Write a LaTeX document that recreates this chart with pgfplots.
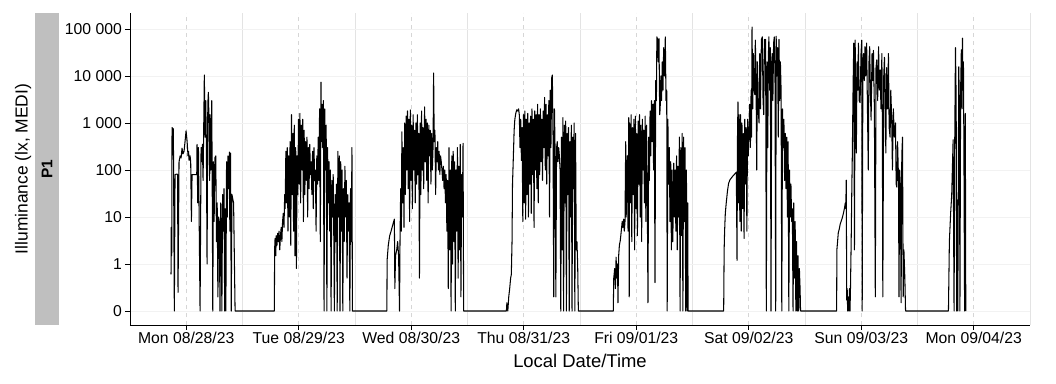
\documentclass[border=0pt]{standalone}
\usepackage{fontspec}
\setmainfont{Liberation Sans}
\usepackage{pgfplots}
\pgfplotsset{compat=1.18}
\usepackage{pgfplotstable}
% hours since Mon 08/28/23 00:00 ; illuminance in lx (0 lx stored as 0.1 for the symlog-like display)
\pgfplotstableread{
h lux
8.75 0.6
8.80 6
8.90 1.5
8.97 800
9.25 750
9.46 0.1
9.61 80
10.03 82
10.15 80
10.25 0.25
10.46 150
10.70 200
10.90 180
11.10 290
11.30 220
11.53 250
11.74 400
11.96 680
12.17 420
12.38 200
12.50 250
12.60 160
12.81 200
12.95 150
13.10 8
13.24 80
14.24 80
14.30 350
14.45 20
14.60 300
14.95 0.1
15.16 300
15.31 150
15.44 350
15.59 60
15.86 10500
16.01 500
16.16 3000
16.30 300
16.44 1
16.60 2500
16.72 4500
16.87 1000
17.00 60
17.08 1500
17.25 100
17.44 3000
17.55 30
17.66 0.1
17.80 150
17.95 8
18.10 180
18.30 200
18.45 3
18.60 20
18.75 0.2
18.90 10
19.05 8
19.20 0.1
19.35 20
19.50 3
19.60 0.1
19.75 30
19.90 5
20.05 40
20.20 0.1
20.30 15
20.45 0.1
20.60 150
20.75 10
20.90 200
21.05 40
21.20 240
21.30 5
21.45 230
21.60 0.1
21.75 30
21.90 25
22.10 20
22.42 0.1
30.80 0.1
30.85 2
30.95 3.5
31.10 1.5
31.20 4
31.35 2.5
31.50 4.5
31.65 3
31.80 5
31.95 2
32.10 4
32.25 6
32.40 3
32.55 8
32.70 12
32.85 6
33.00 30
33.10 15
33.25 250
33.40 20
33.55 300
33.70 5
33.85 200
34.00 10
34.15 400
34.30 2.5
34.45 1500
34.60 30
34.75 600
34.90 5
35.05 900
35.20 1.5
35.35 300
35.50 0.8
35.65 200
35.80 30
35.95 1200
36.10 50
36.25 1600
36.40 20
36.55 900
36.70 100
36.85 1200
37.00 8
37.15 700
37.30 30
37.45 400
37.60 60
37.75 500
37.90 10
38.05 300
38.20 40
38.35 350
38.50 80
38.65 150
38.80 30
38.95 250
39.10 15
39.25 300
39.40 60
39.55 100
39.70 5
39.85 200
40.00 50
40.15 500
40.30 60
40.45 2000
40.60 3
40.75 7400
40.85 400
41.00 2500
41.10 300
41.25 3000
41.40 0.1
41.55 2000
41.70 100
41.85 900
42.00 0.1
42.15 300
42.30 20
42.45 150
42.60 5
42.75 100
42.90 0.1
43.05 60
43.20 10
43.35 80
43.50 2
43.60 0.1
43.75 30
43.90 3
44.05 50
44.20 0.1
44.35 250
44.50 10
44.65 200
44.80 0.1
44.95 150
45.10 5
45.25 100
45.40 0.1
45.55 40
45.70 3
45.85 120
46.00 10
46.15 60
46.30 0.5
46.45 30
46.60 5
46.75 20
46.90 0.1
47.05 40
47.20 3
47.35 300
47.45 0.1
54.80 0.1
54.85 1.2
55.10 2.5
55.40 4
55.70 5
56.00 6.5
56.40 9
56.50 0.3
56.65 1.5
56.90 2
57.10 3
57.30 1.5
57.50 0.1
57.60 3
57.75 40
57.90 5
58.00 650
58.15 20
58.30 300
58.45 6
58.60 1000
58.75 30
58.90 1400
59.05 100
59.20 1800
59.35 40
59.50 1200
59.65 8
59.80 1900
59.95 60
60.10 900
60.25 15
60.40 1500
60.55 100
60.70 700
60.85 20
61.00 1000
61.15 50
61.30 1500
61.45 80
61.60 600
61.75 0.5
61.90 1000
62.05 30
62.20 1800
62.35 100
62.50 800
62.65 40
62.85 2200
63.00 150
63.15 1200
63.30 60
63.45 1000
63.60 20
63.75 900
63.90 200
64.05 700
64.20 50
64.35 600
64.50 100
64.65 300
64.77 11600
64.90 400
65.05 700
65.20 30
65.35 300
65.50 150
65.65 400
65.80 100
65.95 250
66.10 80
66.25 200
66.40 150
66.55 100
66.70 60
66.85 120
67.00 40
67.15 100
67.30 20
67.45 80
67.60 5
67.75 60
67.90 0.3
68.05 300
68.20 2
68.35 100
68.50 0.1
68.65 200
68.80 1
68.95 250
69.10 3
69.25 150
69.40 0.1
69.55 100
69.70 5
69.85 300
70.00 0.5
70.15 120
70.30 2
70.45 350
70.60 0.2
70.75 80
70.90 10
71.05 370
71.18 0.1
80.30 0.1
80.40 0.15
80.60 0.1
80.80 0.2
81.00 0.3
81.20 0.5
81.35 0.6
81.50 3
81.60 50
81.75 150
81.95 700
82.10 1200
82.30 1600
82.50 1900
82.70 1800
82.90 2000
83.05 1500
83.20 300
83.35 1200
83.50 160
83.65 800
83.80 8
83.95 1500
84.10 20
84.25 1800
84.40 9
84.55 1200
84.70 30
84.85 1600
85.00 10
85.15 1000
85.30 50
85.45 1400
85.60 12
85.75 2000
85.90 80
86.05 1200
86.20 6
86.35 1800
86.50 100
86.65 1500
86.80 40
86.95 2500
87.10 20
87.25 1500
87.40 80
87.55 2000
87.70 150
87.85 1200
88.00 60
88.15 1800
88.30 300
88.45 3500
88.60 100
88.75 2500
88.90 50
89.05 1500
89.20 200
89.35 3000
89.50 10
89.65 5000
89.80 300
89.95 9000
90.10 10500
90.25 500
90.40 0.2
90.55 2000
90.70 200
90.85 0.2
91.00 300
91.15 400
91.30 150
91.45 300
91.60 200
91.75 100
91.90 0.1
92.05 500
92.20 2
92.35 1300
92.50 0.1
92.65 900
92.80 20
92.95 1100
93.10 0.1
93.25 600
93.40 30
93.55 800
93.70 0.1
93.85 400
94.00 10
94.15 900
94.30 0.1
94.45 500
94.60 40
94.75 1000
94.90 0.1
95.05 600
95.20 2
95.35 3
95.50 1
95.65 0.1
103.10 0.1
103.20 0.5
103.40 0.8
103.55 0.3
103.70 1.4
103.85 0.5
104.00 1
104.10 0.15
104.25 1.5
104.40 2.5
104.60 3.2
104.80 5
105.00 8
105.15 6
105.30 9
105.45 5
105.60 8
105.75 400
105.85 10
105.95 30
106.10 200
106.25 5
106.40 1300
106.50 0.2
106.60 1000
106.75 20
106.90 1500
107.05 3
107.20 800
107.35 30
107.50 1200
107.65 2
107.80 1400
107.95 15
108.10 600
108.25 4
108.40 1100
108.55 50
108.70 1500
108.85 10
109.00 900
109.15 3
109.30 1200
109.45 100
109.60 700
109.75 20
109.90 1400
110.05 8
110.20 900
110.35 30
110.50 0.15
110.65 500
110.80 60
110.95 1800
111.10 200
111.25 3000
111.40 400
111.55 2500
111.70 100
111.85 3000
112.00 0.4
112.15 8000
112.30 3000
112.40 68000
112.55 60000
112.70 20000
112.85 62000
113.00 1500
113.10 2000
113.25 10000
113.40 3000
113.55 20000
113.70 5000
113.85 40000
114.00 10000
114.20 68000
114.35 3000
114.50 5000
114.60 0.1
114.75 1200
114.90 50
115.05 300
115.20 8
115.35 150
115.50 2
115.65 100
115.80 3
116.00 140
116.15 10
116.30 100
116.45 5
116.60 200
116.75 2
116.90 120
117.05 10
117.20 500
117.35 0.1
117.50 300
117.65 4
117.80 600
117.95 0.1
118.10 500
118.25 8
118.40 300
118.55 0.1
118.70 100
118.85 0.1
119.00 20
119.05 0.1
126.65 0.1
126.75 2
126.85 5
127.00 12
127.20 20
127.45 35
127.70 52
128.00 62
128.30 68
128.60 74
128.90 80
129.20 86
129.35 90
129.50 1.2
129.60 500
129.70 2800
129.80 20
129.95 1500
130.10 8
130.25 1500
130.40 5
130.55 1000
130.70 15
130.85 600
131.00 3.5
131.15 1200
131.30 50
131.45 800
131.60 5
131.75 1200
131.90 200
132.05 600
132.20 2500
132.35 300
132.50 5000
132.60 500
132.70 110000
132.85 2000
133.00 30000
133.15 5000
133.30 4000
133.40 58000
133.55 10000
133.70 100
133.85 20000
134.00 2000
134.20 1000
134.35 30000
134.50 2000
134.70 60000
134.90 68000
135.05 3000
135.20 1500
135.35 60000
135.50 40000
135.60 60000
135.75 0.1
135.90 20000
136.05 300
136.20 30000
136.30 68000
136.45 5000
136.60 40000
136.75 0.1
136.90 20000
137.00 30000
137.15 3000
137.30 50000
137.45 68000
137.60 10000
137.75 0.1
137.85 70000
138.00 10000
138.15 40000
138.30 500
138.45 60000
138.60 3000
138.75 20000
138.90 5000
139.05 0.1
139.20 2000
139.35 300
139.50 1200
139.65 60
139.80 600
139.95 40
140.10 500
140.25 10
140.40 400
140.55 0.1
140.70 100
140.85 10
141.00 50
141.15 8
141.30 15
141.45 0.1
141.60 20
141.75 0.5
141.90 8
142.05 0.1
142.20 3
142.35 0.1
142.50 1.5
142.65 0.1
142.80 0.8
142.95 0.3
143.05 0.1
150.75 0.1
150.80 2
150.95 3
151.10 4.6
151.30 5.5
151.50 7
151.80 8.6
152.00 10
152.20 12
152.45 16
152.60 20
152.70 15
152.80 61
152.90 0.17
153.00 0.3
153.10 0.1
153.20 0.2
153.35 0.1
153.50 0.3
153.60 0.1
153.70 0.3
153.85 3
154.00 50
154.10 230
154.25 5000
154.40 50000
154.55 2
154.70 58000
154.85 1000
154.95 230
155.10 20000
155.25 5000
155.40 50000
155.55 3000
155.75 2700
155.95 30000
156.10 58000
156.20 0.1
156.35 20000
156.50 30000
156.65 8000
156.80 42000
156.95 10000
157.15 50000
157.30 3000
157.50 100
157.65 20000
157.80 42000
157.95 5000
158.10 1150
158.30 30000
158.45 8000
158.60 35000
158.80 2000
159.00 0.2
159.15 15000
159.30 22000
159.50 3000
159.70 42000
159.85 5000
160.05 13400
160.20 2000
160.40 30000
160.50 1000
160.60 0.2
160.80 10000
160.95 25000
161.10 3000
161.25 230
161.40 15000
161.60 2000
161.80 30000
161.95 800
162.15 500
162.30 5000
162.50 1150
162.65 100
162.85 2000
163.05 500
163.30 1000
163.45 50
163.60 43
163.75 400
163.95 61
164.05 0.2
164.20 100
164.35 43
164.50 0.15
164.65 200
164.80 500
164.95 0.2
165.10 2
165.30 0.5
165.45 0.1
174.60 0.1
174.80 3
175.07 12
175.30 30
175.60 440
175.80 0.1
175.95 500
176.10 40000
176.25 3000
176.35 0.1
176.50 23
176.60 0.1
176.80 15700
176.95 2000
177.05 0.1
177.20 5000
177.35 36000
177.50 2000
177.60 64000
177.70 5000
177.80 20000
177.90 270
178.05 0.1
178.20 1600
178.30 0.1
}\lightdata
\begin{document}
\begin{tikzpicture}
\useasboundingbox (-130bp,-59bp) rectangle (926bp,325bp);
\begin{axis}[
  name=ax,
  at={(0,0)}, anchor=south west,
  scale only axis,
  width=900bp, height=312bp,
  xmin=0, xmax=192,
  ymode=log, log basis y=10,
  ymin=0.0504, ymax=218800,
  axis x line*=bottom, axis y line*=left,
  axis line style={black, line width=0.9bp},
  tick align=outside,
  major tick length=5bp,
  minor tick length=0bp,
  tick style={black, line width=0.9bp},
  xtick={12,36,60,84,108,132,156,180},
  xticklabels={Mon 08/28/23,Tue 08/29/23,Wed 08/30/23,Thu 08/31/23,Fri 09/01/23,Sat 09/02/23,Sun 09/03/23,Mon 09/04/23},
  minor xtick={24,48,72,96,120,144,168,192},
  ytick={0.1,1,10,100,1000,10000,100000},
  yticklabels={0,1,10,100,1 000,10 000,100 000},
  yminorticks=false,
  xmajorgrids, xminorgrids, ymajorgrids,
  major x grid style={black!16, dashed, dash pattern=on 4bp off 4bp, line width=0.8bp},
  minor x grid style={black!11, line width=0.9bp},
  major y grid style={black!5, line width=0.9bp},
  tick label style={font=\fontsize{15.8}{18}\selectfont},
  yticklabel style={inner sep=3bp},
  xticklabel style={inner sep=2bp},
]
\addplot[black, line width=1.05bp, line join=round] table[x=h, y=lux] {\lightdata};
\end{axis}
\fill[black!25] (-95bp,0bp) rectangle (-71bp,312bp);
\node[rotate=90, font=\fontsize{15.5}{17}\selectfont\bfseries] at (-83bp,156bp) {P1};
\node[rotate=90, font=\fontsize{17.5}{21}\selectfont] at (-107bp,156bp) {Illuminance (lx, MEDI)};
\node[anchor=base, font=\fontsize{18.5}{22}\selectfont] at (450bp,-42bp) {Local Date/Time};
\end{tikzpicture}
\end{document}
